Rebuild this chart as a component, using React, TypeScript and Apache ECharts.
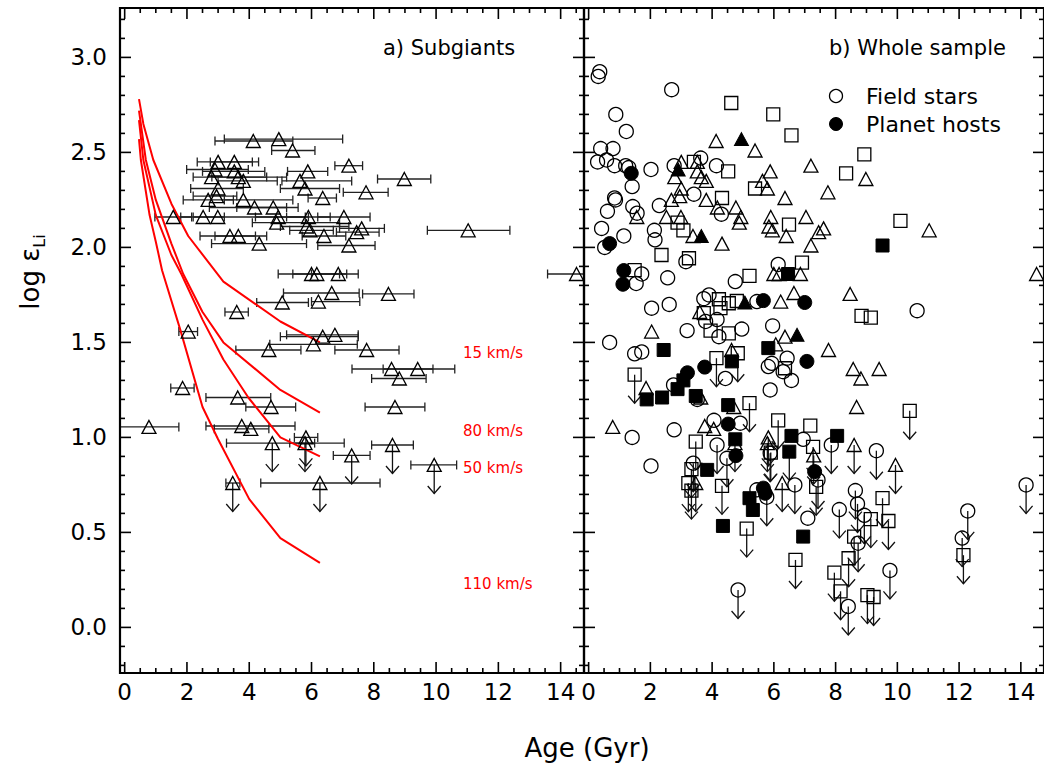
import React, { useEffect, useRef } from 'react';
import * as echarts from 'echarts';

const FONT = "'DejaVu Sans', 'Liberation Sans', sans-serif";

// Axis ranges shared by both panels
const X_MIN = -0.15;
const X_MAX = 14.75;
const Y_MIN = -0.24;
const Y_MAX = 3.26;

const AGE_TICKS = [0, 2, 4, 6, 8, 10, 12, 14];
const AGE_MINOR = [0.5, 1, 1.5, 2.5, 3, 3.5, 4.5, 5, 5.5, 6.5, 7, 7.5, 8.5, 9, 9.5, 10.5, 11, 11.5, 12.5, 13, 13.5, 14.5];
const LI_TICKS = [0, 0.5, 1, 1.5, 2, 2.5, 3];
const LI_MINOR = [-0.2, -0.1, 0.1, 0.2, 0.3, 0.4, 0.6, 0.7, 0.8, 0.9, 1.1, 1.2, 1.3, 1.4, 1.6, 1.7, 1.8, 1.9,
  2.1, 2.2, 2.3, 2.4, 2.6, 2.7, 2.8, 2.9, 3.1, 3.2];

// Subgiants: [age, logLi, ageLow, ageHigh, upperLimit, planetHost]
const subgiants: number[][] = [
  [4.13, 2.56, 2.9, 5.4, 0, 0],
  [4.95, 2.57, 3.2, 7.0, 0, 1],
  [5.39, 2.51, 4.72, 6.11, 0, 0],
  [3.0, 2.45, 2.33, 4.1, 0, 0],
  [3.52, 2.45, 2.75, 4.3, 0, 0],
  [7.2, 2.43, 6.75, 7.64, 0, 0],
  [2.9, 2.41, 1.99, 3.97, 0, 1],
  [3.52, 2.40, 2.5, 4.5, 0, 0],
  [5.88, 2.40, 5.23, 6.52, 0, 0],
  [2.79, 2.37, 2.2, 4.56, 0, 0],
  [3.65, 2.37, 2.8, 5.2, 0, 0],
  [3.81, 2.35, 3.0, 4.9, 0, 0],
  [5.63, 2.35, 5.05, 7.29, 0, 0],
  [5.79, 2.31, 5.0, 6.9, 0, 0],
  [8.98, 2.36, 8.12, 9.83, 0, 0],
  [7.75, 2.29, 7.02, 8.46, 0, 0],
  [3.0, 2.31, 2.12, 3.81, 0, 0],
  [6.36, 2.26, 5.89, 6.8, 0, 0],
  [2.68, 2.25, 1.88, 3.49, 0, 0],
  [2.95, 2.27, 2.2, 3.6, 0, 0],
  [3.81, 2.25, 3.2, 5.4, 0, 0],
  [4.17, 2.21, 2.72, 5.57, 0, 0],
  [4.77, 2.21, 3.6, 5.2, 0, 0],
  [7.04, 2.16, 6.2, 7.88, 0, 0],
  [1.56, 2.16, 0.97, 2.15, 0, 0],
  [2.52, 2.16, 1.8, 3.2, 0, 0],
  [2.99, 2.16, 2.2, 5.8, 0, 0],
  [4.93, 2.16, 4.2, 5.9, 0, 0],
  [4.88, 2.13, 4.1, 6.9, 0, 0],
  [5.9, 2.16, 5.2, 6.6, 0, 0],
  [5.84, 2.11, 5.0, 7.2, 0, 0],
  [5.95, 2.09, 5.3, 6.7, 0, 0],
  [7.61, 2.10, 6.9, 8.34, 0, 0],
  [7.45, 2.08, 6.8, 8.17, 0, 0],
  [11.03, 2.09, 9.72, 12.37, 0, 0],
  [6.4, 2.06, 5.7, 7.1, 0, 0],
  [3.38, 2.06, 2.42, 4.56, 0, 0],
  [3.65, 2.06, 2.9, 4.2, 0, 1],
  [4.32, 2.02, 2.79, 5.84, 0, 0],
  [7.2, 2.01, 6.2, 8.04, 0, 0],
  [6.0, 1.86, 4.93, 7.13, 0, 0],
  [6.17, 1.86, 5.4, 6.9, 0, 0],
  [6.86, 1.86, 6.0, 7.5, 0, 0],
  [14.51, 1.86, 13.58, 15.4, 0, 0],
  [6.65, 1.76, 5.1, 7.53, 0, 0],
  [8.47, 1.755, 7.64, 9.29, 0, 0],
  [5.06, 1.71, 4.24, 5.9, 0, 1],
  [6.22, 1.715, 6.0, 7.55, 0, 0],
  [3.6, 1.66, 3.22, 3.97, 0, 0],
  [2.04, 1.557, 1.74, 2.34, 0, 0],
  [6.36, 1.53, 5.0, 7.5, 0, 0],
  [6.75, 1.54, 5.2, 7.5, 0, 1],
  [6.06, 1.49, 4.66, 7.47, 0, 0],
  [7.77, 1.46, 6.75, 8.81, 0, 0],
  [4.63, 1.46, 3.57, 5.66, 0, 0],
  [8.57, 1.36, 7.3, 9.9, 0, 0],
  [9.41, 1.36, 8.3, 10.6, 0, 0],
  [8.82, 1.31, 7.93, 9.68, 0, 0],
  [8.68, 1.16, 7.72, 9.64, 0, 0],
  [1.86, 1.26, 1.48, 2.23, 0, 0],
  [3.63, 1.21, 2.61, 4.69, 0, 0],
  [4.7, 1.16, 3.89, 5.49, 0, 0],
  [0.78, 1.055, -0.15, 1.74, 0, 0],
  [3.76, 1.06, 2.61, 5.47, 0, 0],
  [4.05, 1.045, 2.88, 4.63, 0, 0],
  [5.82, 1.0, 5.45, 6.2, 1, 0],
  [5.79, 0.97, 5.3, 6.1, 1, 0],
  [8.6, 0.96, 7.93, 9.27, 1, 0],
  [7.29, 0.905, 6.7, 7.88, 1, 0],
  [9.94, 0.855, 9.19, 10.66, 1, 0],
  [4.74, 0.97, 3.27, 7.05, 1, 0],
  [3.47, 0.76, 3.25, 3.7, 1, 0],
  [6.27, 0.76, 4.37, 8.2, 1, 0],
];

// Rotational-mixing models: [age, logLi]
const model15 = [[0.46, 2.78], [0.6, 2.65], [0.92, 2.46], [1.5, 2.23], [2.04, 2.06], [3.17, 1.82], [5.0, 1.61], [6.27, 1.5]];
const model80 = [[0.46, 2.72], [0.68, 2.46], [1.0, 2.25], [1.5, 2.02], [1.88, 1.86], [2.5, 1.66], [3.17, 1.5], [5.0, 1.25], [6.27, 1.13]];
const model50 = [[0.46, 2.67], [0.6, 2.46], [1.0, 2.17], [1.5, 1.96], [1.82, 1.86], [2.5, 1.62], [3.17, 1.41], [3.97, 1.21], [5.0, 1.0], [6.27, 0.9]];
const model110 = [[0.46, 2.57], [0.52, 2.46], [0.8, 2.17], [1.0, 2.03], [1.2, 1.88], [1.78, 1.57], [2.5, 1.16], [3.0, 0.99], [4.0, 0.675], [5.0, 0.47], [6.27, 0.34]];

// Whole sample, dwarfs: [age, logLi, upperLimit]
const dwarfField: number[][] = [
  [0.36, 2.925, 0], [0.31, 2.9, 0], [2.69, 2.83, 0], [0.88, 2.7, 0], [1.22, 2.61, 0], [0.39, 2.52, 0],
  [0.79, 2.52, 0], [0.29, 2.45, 0], [0.58, 2.46, 0], [0.84, 2.43, 0], [1.2, 2.43, 0], [1.3, 2.42, 0],
  [2.02, 2.41, 0], [2.77, 2.43, 0], [3.63, 2.47, 0], [4.14, 2.43, 0], [1.41, 2.32, 0], [0.84, 2.26, 0],
  [0.87, 2.25, 0], [3.41, 2.28, 0], [0.61, 2.19, 0], [1.43, 2.215, 0], [1.57, 2.18, 0], [2.29, 2.22, 0],
  [4.3, 2.175, 0], [0.42, 2.1, 0], [1.14, 2.06, 0], [2.13, 2.09, 0], [2.15, 2.04, 0], [0.52, 2.0, 0],
  [3.15, 1.925, 0], [1.72, 1.86, 0], [1.54, 1.81, 0], [2.56, 1.84, 0], [4.75, 1.82, 0], [6.14, 1.91, 0],
  [2.04, 1.68, 0], [2.61, 1.7, 0], [3.73, 1.73, 0], [3.9, 1.75, 0], [4.16, 1.62, 0], [3.79, 1.61, 0],
  [5.45, 1.715, 0], [5.96, 1.587, 0], [3.19, 1.562, 0], [4.96, 1.57, 0], [4.22, 1.53, 0], [0.68, 1.5, 0],
  [1.49, 1.44, 0], [1.72, 1.45, 0], [5.82, 1.373, 0], [5.93, 1.39, 0], [6.3, 1.346, 0], [6.43, 1.417, 0],
  [6.57, 1.3, 0], [2.75, 1.276, 0], [4.43, 1.31, 0], [3.52, 1.2, 0], [5.88, 1.25, 0],
  [10.64, 1.667, 0], [6.95, 0.99, 0], [7.86, 0.96, 1], [9.32, 0.93, 1], [7.43, 0.776, 1], [14.17, 0.75, 1],
  [8.64, 0.72, 1], [8.71, 0.65, 1], [8.93, 0.59, 1], [8.12, 0.62, 1], [7.1, 0.575, 0], [12.28, 0.613, 1],
  [12.1, 0.47, 1], [8.73, 0.443, 1], [9.76, 0.3, 1], [8.41, 0.11, 1],
  [1.41, 1.0, 0], [2.77, 1.04, 0], [2.02, 0.85, 0], [4.06, 1.09, 0], [4.91, 1.075, 0], [4.16, 0.96, 1],
  [5.88, 0.917, 1], [4.48, 0.89, 1], [3.39, 0.864, 1], [5.45, 0.724, 0], [5.77, 0.685, 1], [6.68, 0.75, 1],
  [4.84, 0.197, 1],
];
const dwarfHosts: number[][] = [
  [1.38, 2.39, 0], [0.68, 2.02, 0], [1.14, 1.878, 0], [1.11, 1.806, 0], [5.66, 1.72, 0], [7.0, 1.71, 0],
  [7.07, 1.4, 0], [3.2, 1.34, 0], [3.76, 1.37, 0], [4.52, 1.07, 0], [4.77, 0.904, 0], [5.66, 0.733, 0],
  [5.72, 0.706, 0], [7.32, 0.82, 0],
];

// Whole sample, second group (squares): [age, logLi, upperLimit]
const squareField: number[][] = [
  [4.62, 2.76, 0], [5.98, 2.7, 0], [6.57, 2.59, 0], [3.41, 2.45, 0], [4.52, 2.4, 0], [5.39, 2.31, 0],
  [4.32, 2.26, 0], [2.88, 2.13, 0], [3.07, 2.09, 0], [6.49, 2.12, 0], [2.36, 1.96, 0], [3.25, 1.943, 0],
  [8.93, 2.49, 0], [8.34, 2.39, 0], [10.1, 2.14, 0], [6.91, 1.92, 0], [1.49, 1.88, 0], [5.21, 1.85, 0],
  [4.22, 1.727, 0], [4.27, 1.68, 0], [4.54, 1.706, 0], [4.8, 1.718, 0], [3.73, 1.654, 0], [3.95, 1.562, 0],
  [4.54, 1.548, 0], [6.36, 1.364, 0], [1.49, 1.33, 1], [4.14, 1.417, 1], [4.83, 1.443, 1], [5.21, 1.18, 1],
  [8.84, 1.64, 0], [9.14, 1.63, 0], [10.4, 1.14, 1], [7.18, 1.062, 0], [7.27, 0.95, 1], [7.37, 0.74, 1],
  [9.52, 0.68, 1], [9.14, 0.57, 1], [9.71, 0.56, 1], [12.14, 0.38, 1], [8.6, 0.478, 1], [8.42, 0.364, 1],
  [7.96, 0.288, 1], [8.16, 0.19, 1], [9.03, 0.17, 1], [9.23, 0.16, 1], [6.7, 0.355, 1], [6.14, 1.09, 1],
  [3.47, 0.978, 1], [5.9, 0.92, 1], [3.33, 0.833, 1], [3.23, 0.759, 1], [3.33, 0.72, 1], [4.32, 0.745, 1],
  [5.12, 0.52, 1],
];
const squareHosts: number[][] = [
  [9.52, 2.01, 0], [6.46, 1.86, 0], [2.43, 1.46, 0], [5.82, 1.47, 0], [1.88, 1.2, 0], [2.38, 1.21, 0],
  [2.88, 1.254, 0], [3.07, 1.3, 0], [3.47, 1.218, 0], [4.64, 1.4, 0], [4.52, 1.17, 0], [4.75, 0.99, 0],
  [6.57, 1.008, 0], [8.05, 1.008, 0], [6.5, 0.925, 1], [3.84, 0.829, 0], [5.21, 0.68, 0], [5.32, 0.618, 0],
  [4.35, 0.534, 0], [6.95, 0.478, 0],
];

const ARROW_DEX = 0.15;
const INK = '#000';

function frameItem(params: any, api: any) {
  const [x0, y0] = api.coord([X_MIN, Y_MAX]);
  const [x1, y1] = api.coord([X_MAX, Y_MIN]);
  const children: any[] = [];
  const tick = (a: number[], b: number[]) =>
    children.push({ type: 'line', shape: { x1: a[0], y1: a[1], x2: b[0], y2: b[1] }, style: { stroke: INK, lineWidth: 1.6 } });
  const xTicks = (vals: number[], len: number) => vals.forEach((v) => {
    const px = api.coord([v, 0])[0];
    tick([px, y1], [px, y1 - len]);
    tick([px, y0], [px, y0 + len]);
  });
  const yTicks = (vals: number[], len: number) => vals.forEach((v) => {
    const py = api.coord([0, v])[1];
    tick([x0, py], [x0 + len, py]);
    tick([x1, py], [x1 - len, py]);
  });
  xTicks(AGE_TICKS, 11);
  xTicks(AGE_MINOR, 5);
  yTicks(LI_TICKS, 11);
  yTicks(LI_MINOR, 5);
  children.push({ type: 'rect', shape: { x: x0, y: y0, width: x1 - x0, height: y1 - y0 }, style: { fill: 'none', stroke: INK, lineWidth: 2.2 } });
  return { type: 'group', children };
}

function errorBarItem(params: any, api: any) {
  const y = api.value(1);
  const a = api.coord([api.value(2), y]);
  const b = api.coord([api.value(3), y]);
  const st = { stroke: '#222', lineWidth: 1.3 };
  return {
    type: 'group',
    children: [
      { type: 'line', shape: { x1: a[0], y1: a[1], x2: b[0], y2: b[1] }, style: st },
      { type: 'line', shape: { x1: a[0], y1: a[1] - 4.5, x2: a[0], y2: a[1] + 4.5 }, style: st },
      { type: 'line', shape: { x1: b[0], y1: b[1] - 4.5, x2: b[0], y2: b[1] + 4.5 }, style: st },
    ],
  };
}

function arrowItem(params: any, api: any) {
  const x = api.value(0);
  const y = api.value(1);
  const p = api.coord([x, y]);
  const q = api.coord([x, y - ARROW_DEX]);
  const st = { stroke: '#111', lineWidth: 1.3, fill: 'none' };
  return {
    type: 'group',
    children: [
      { type: 'line', shape: { x1: p[0], y1: p[1], x2: q[0], y2: q[1] }, style: st },
      { type: 'polyline', shape: { points: [[q[0] - 6.5, q[1] - 7.5], [q[0], q[1]], [q[0] + 6.5, q[1] - 7.5]] }, style: st },
    ],
  };
}

const openStyle = { color: 'rgba(0,0,0,0)', borderColor: INK, borderWidth: 1.3, opacity: 1 };
const fillStyle = { color: INK, borderColor: INK, borderWidth: 1, opacity: 1 };

export default function App() {
  const ref = useRef<HTMLDivElement>(null);

  useEffect(() => {
    if (!ref.current) return;
    const chart = echarts.init(ref.current, null, { renderer: 'svg' });

    const subPoints = subgiants.map((s) => [s[0], s[1]]);
    const subBars = subgiants.map((s) => [s[0], s[1], s[2], s[3]]);
    const subLimits = subgiants.filter((s) => s[4] === 1).map((s) => [s[0], s[1]]);
    const subField = subgiants.filter((s) => s[5] === 0).map((s) => [s[0], s[1]]);
    const subHosts = subgiants.filter((s) => s[5] === 1).map((s) => [s[0], s[1]]);
    const rightLimits = [...subgiants.filter((s) => s[4] === 1), ...dwarfField, ...dwarfHosts, ...squareField, ...squareHosts]
      .filter((s) => (s.length > 3 ? s[4] : s[2]) === 1)
      .map((s) => [s[0], s[1]]);
    const xy = (arr: number[][]) => arr.map((s) => [s[0], s[1]]);

    const axisLabelStyle = { color: INK, fontSize: 23, fontFamily: FONT };
    const xAxisBase = {
      type: 'value', min: X_MIN, max: X_MAX,
      axisLine: { show: false }, axisTick: { show: false }, splitLine: { show: false },
      axisLabel: { ...axisLabelStyle, customValues: AGE_TICKS, margin: 7, formatter: (v: number) => String(v) },
    };
    const yAxisBase = {
      type: 'value', min: Y_MIN, max: Y_MAX,
      axisLine: { show: false }, axisTick: { show: false }, splitLine: { show: false },
    };

    const redLine = (name: string, data: number[][]) => ({
      name, type: 'line', xAxisIndex: 0, yAxisIndex: 0, data, showSymbol: false, symbol: 'none',
      lineStyle: { color: '#ff0000', width: 2 }, z: 3, silent: true,
    });

    const scatter = (name: string, grid: number, data: number[][], symbol: string, size: any, style: any) => ({
      name, type: 'scatter', xAxisIndex: grid, yAxisIndex: grid, data, symbol, symbolSize: size,
      itemStyle: style, z: 4, silent: true,
    });

    const triSize = [14, 13];
    const label = (text: string, x: number, y: number, size: number, color = INK) => ({
      type: 'text', x, y, style: { text, font: `${size}px ${FONT}`, fill: color, verticalAlign: 'middle' },
    });

    chart.setOption({
      animation: false,
      backgroundColor: '#fff',
      grid: [
        { left: 120, top: 8, width: 464, height: 665 },
        { left: 584, top: 8, width: 464, height: 665 },
      ],
      xAxis: [
        { ...xAxisBase, gridIndex: 0 },
        { ...xAxisBase, gridIndex: 1 },
      ],
      yAxis: [
        {
          ...yAxisBase, gridIndex: 0,
          axisLabel: { ...axisLabelStyle, customValues: LI_TICKS, margin: 13, formatter: (v: number) => v.toFixed(1) },
        },
        { ...yAxisBase, gridIndex: 1, axisLabel: { show: false } },
      ],
      series: [
        { type: 'custom', xAxisIndex: 0, yAxisIndex: 0, data: [[0, 0]], renderItem: frameItem, z: 10, silent: true },
        { type: 'custom', xAxisIndex: 1, yAxisIndex: 1, data: [[0, 0]], renderItem: frameItem, z: 10, silent: true },
        redLine('15 km/s', model15),
        redLine('80 km/s', model80),
        redLine('50 km/s', model50),
        redLine('110 km/s', model110),
        { type: 'custom', xAxisIndex: 0, yAxisIndex: 0, data: subBars, renderItem: errorBarItem, clip: true, z: 2, silent: true },
        { type: 'custom', xAxisIndex: 0, yAxisIndex: 0, data: subLimits, renderItem: arrowItem, z: 2, silent: true },
        scatter('Subgiants', 0, subPoints, 'triangle', triSize, openStyle),
        { type: 'custom', xAxisIndex: 1, yAxisIndex: 1, data: rightLimits, renderItem: arrowItem, clip: true, z: 2, silent: true },
        scatter('Subgiants field', 1, subField, 'triangle', triSize, openStyle),
        scatter('Subgiants hosts', 1, subHosts, 'triangle', triSize, fillStyle),
        scatter('Dwarfs field', 1, xy(dwarfField), 'circle', 14, openStyle),
        scatter('Dwarfs hosts', 1, xy(dwarfHosts), 'circle', 14, fillStyle),
        scatter('Squares field', 1, xy(squareField), 'rect', 13, openStyle),
        scatter('Squares hosts', 1, xy(squareHosts), 'rect', 13, fillStyle),
      ],
      graphic: [
        label('a) Subgiants', 383, 48, 21),
        label('b) Whole sample', 829, 48, 21),
        { type: 'circle', shape: { cx: 836, cy: 96, r: 6.5 }, style: { fill: 'none', stroke: INK, lineWidth: 1.3 } },
        { type: 'circle', shape: { cx: 836, cy: 124, r: 6.5 }, style: { fill: INK, stroke: INK, lineWidth: 1 } },
        label('Field stars', 866, 96, 22),
        label('Planet hosts', 866, 124, 22),
        label('15 km/s', 463, 353, 15, '#ff0000'),
        label('80 km/s', 463, 431, 15, '#ff0000'),
        label('50 km/s', 463, 468, 15, '#ff0000'),
        label('110 km/s', 463, 584, 15, '#ff0000'),
        { type: 'text', x: 587, y: 748, style: { text: 'Age (Gyr)', font: `26px ${FONT}`, fill: INK, align: 'center', verticalAlign: 'middle' } },
        {
          type: 'text', x: 30, y: 272, rotation: Math.PI / 2,
          style: {
            text: '{a|log ε}{b|Li}', align: 'center', verticalAlign: 'middle', fill: INK,
            rich: {
              a: { fontSize: 26, fontFamily: FONT, lineHeight: 34, verticalAlign: 'middle' },
              b: { fontSize: 16, fontFamily: FONT, lineHeight: 16, verticalAlign: 'bottom' },
            },
          },
        },
      ],
    });

    return () => chart.dispose();
  }, []);

  return (
    <div
      ref={ref}
      style={{ position: 'fixed', left: 0, top: 0, width: 1044, height: 772, background: '#fff' }}
    />
  );
}
